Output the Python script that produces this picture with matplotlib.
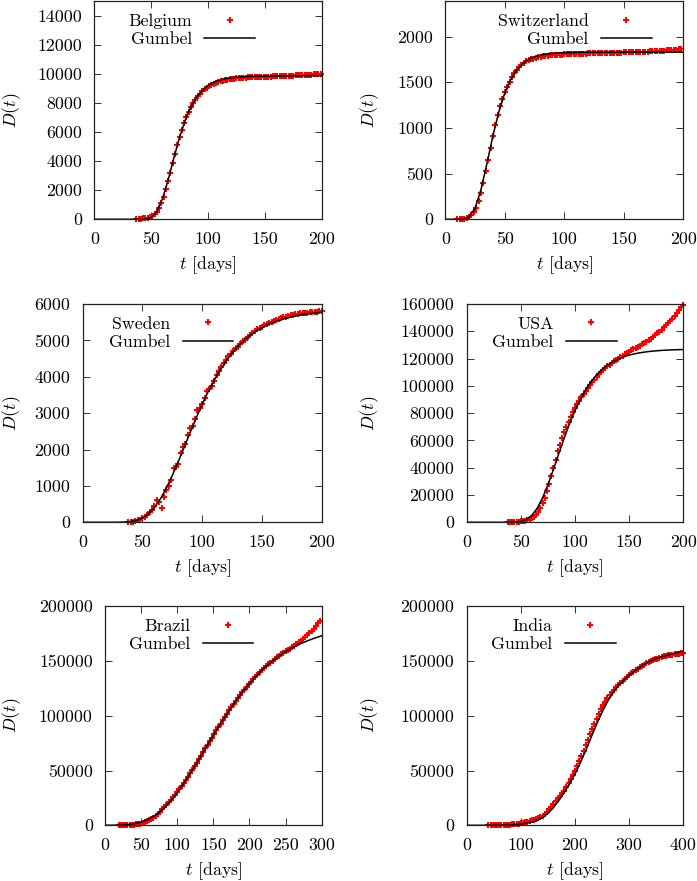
import matplotlib
matplotlib.use("Agg")
import matplotlib.pyplot as plt

plt.rcParams.update({
    "font.family": "serif",
    "font.serif": ["cmr10"],
    "mathtext.fontset": "cm",
    "axes.formatter.use_mathtext": True,
    "font.size": 12.8,
})

W, H = 697, 881
FS = 12.8

# ---------------------------------------------------------------------------
# Cumulative deaths D(t) (data) and the Gumbel fit curves
# ---------------------------------------------------------------------------
BEL_T = list(range(37, 200, 2))
BEL_D = [10, 20, 35, 60, 85, 120, 170, 250, 360, 520,
         780, 1150, 1550, 2050, 2600, 3200, 3850, 4500, 5080, 5650,
         6150, 6650, 7050, 7400, 7700, 7980, 8230, 8450, 8630, 8790,
         8930, 9040, 9140, 9230, 9300, 9370, 9430, 9480, 9520, 9560,
         9590, 9620, 9640, 9665, 9685, 9700, 9712, 9722, 9735, 9745,
         9755, 9760, 9767, 9773, 9780, 9787, 9793, 9800, 9807, 9812,
         9815, 9822, 9828, 9835, 9842, 9848, 9855, 9862, 9868, 9875,
         9882, 9888, 9895, 9902, 9910, 9920, 9930, 9940, 9950, 9963,
         9977, 9990]
BEL_FIT_T = list(range(0, 201, 5))
BEL_FIT_D = [0, 0, 0, 0, 0, 0, 0, 0, 0, 11, 112, 513, 1405, 2727, 4225, 5637,
             6818, 7730, 8394, 8865, 9189, 9409, 9557, 9656, 9722, 9765, 9794,
             9813, 9826, 9834, 9840, 9844, 9847, 9850, 9852, 9855, 9858, 9861,
             9864, 9867, 9870]

SUI_T = list(range(10, 199, 2))
SUI_D = [1, 2, 4, 8, 14, 25, 45, 75, 120, 200,
         290, 400, 530, 650, 780, 910, 1030, 1140, 1235, 1315,
         1390, 1450, 1505, 1555, 1600, 1635, 1665, 1690, 1710, 1728,
         1740, 1750, 1760, 1767, 1774, 1780, 1784, 1788, 1791, 1794,
         1796, 1798, 1800, 1802, 1804, 1805, 1806, 1808, 1809, 1810,
         1811, 1812, 1813, 1814, 1815, 1816, 1817, 1818, 1819, 1819,
         1820, 1821, 1821, 1822, 1823, 1823, 1824, 1825, 1825, 1826,
         1827, 1827, 1828, 1829, 1829, 1830, 1831, 1833, 1834, 1835,
         1837, 1838, 1839, 1841, 1842, 1844, 1846, 1848, 1850, 1852,
         1854, 1856, 1858, 1861, 1865]
SUI_FIT_T = list(range(0, 201, 5))
SUI_FIT_D = [0, 0, 0, 2, 25, 121, 326, 612, 913, 1177, 1383, 1532, 1635, 1704,
             1749, 1778, 1797, 1809, 1817, 1821, 1825, 1826, 1828, 1829, 1829,
             1830, 1830, 1830, 1830, 1830, 1830, 1830, 1830, 1830, 1830, 1830,
             1830, 1830, 1830, 1830, 1830]

SWE_T = list(range(38, 201, 2))
SWE_D = [5, 10, 18, 30, 50, 75, 105, 150, 200, 270,
         350, 450, 600, 560, 380, 700, 880, 1000, 1150, 1480,
         1530, 1600, 1900, 2080, 2150, 2400, 2580, 2650, 2850, 3080,
         3150, 3250, 3420, 3620, 3660, 3740, 3890, 4040, 4150, 4280,
         4380, 4450, 4560, 4620, 4700, 4780, 4820, 4900, 4980, 5020,
         5080, 5150, 5200, 5260, 5300, 5350, 5380, 5420, 5450, 5480,
         5500, 5530, 5560, 5580, 5610, 5630, 5650, 5670, 5690, 5700,
         5715, 5725, 5740, 5748, 5755, 5762, 5770, 5776, 5782, 5788,
         5794, 5800]
SWE_FIT_T = list(range(0, 201, 5))
SWE_FIT_D = [0, 0, 0, 0, 0, 0, 2, 6, 20, 53, 120, 233, 406, 642, 939, 1287,
             1669, 2071, 2476, 2870, 3244, 3590, 3905, 4186, 4434, 4650, 4837,
             4998, 5135, 5252, 5350, 5433, 5503, 5561, 5610, 5650, 5684, 5712,
             5736, 5755, 5771]

USA_T = list(range(38, 201, 2))
USA_D = [100, 150, 200, 280, 380, 500, 650, 850, 1100, 1500,
         2100, 3000, 4000, 5500, 7500, 10500, 14000, 18000, 23000, 28300,
         34000, 40000, 46000, 52000, 57000, 62000, 66000, 70000, 73800, 77400,
         80500, 83500, 86500, 89000, 91500, 93800, 96000, 98300, 100500,
         102500, 104500, 106500, 108500, 110200, 111800, 113000, 114300,
         115600, 116800, 117900, 119000, 120000, 121000, 122000, 123000,
         124000, 125000, 126000, 126900, 127700, 128600, 129500, 130500,
         131500, 132500, 133600, 134700, 135900, 137200, 138500, 139800,
         141200, 142800, 144300, 145800, 147500, 149300, 151200, 153300,
         155400, 157500, 159500]
USA_FIT_T = list(range(0, 201, 5))
USA_FIT_D = [0, 0, 0, 0, 0, 0, 0, 2, 19, 135, 609, 1986, 4980, 10200, 17820,
             27500, 38600, 50230, 61660, 72350, 81940, 90270, 97360, 103250,
             108090, 112010, 115170, 117680, 119690, 121270, 122520, 123490,
             124260, 124860, 125330, 125700, 125980, 126210, 126380, 126520,
             126630]

BRA_T = list(range(19, 299, 3))
BRA_D = [30, 70, 120, 180, 250, 360, 500, 700, 900, 1200,
         1600, 2100, 2700, 3500, 4500, 5600, 7000, 8600, 10500, 12500,
         14500, 16600, 18800, 21000, 23200, 25600, 28000, 30400, 32900, 35600,
         38400, 41300, 44400, 47500, 50700, 53900, 57100, 60400, 63700, 67000,
         70300, 73600, 76900, 80100, 83400, 86600, 89700, 92900, 96000, 99000,
         102000, 104900, 107800, 110700, 113400, 116100, 118700, 121400,
         123900, 126400, 128800, 131100, 133400, 135500, 137600, 139600,
         141500, 143400, 145200, 146900, 148600, 150200, 151800, 153300,
         154800, 156200, 157500, 158800, 160100, 161400, 162700, 164100,
         165600, 167100, 168700, 170300, 172100, 173900, 175700, 177600,
         179700, 181900, 184300, 187000]
BRA_FIT_T = list(range(0, 301, 10))
BRA_FIT_D = [20, 70, 230, 620, 1440, 2900, 5500, 9300, 14700, 21600, 29900,
             39300, 49600, 60400, 71400, 82300, 92900, 103000, 112500, 121400,
             129600, 136900, 143400, 149100, 154200, 158600, 162300, 165600,
             168400, 170900, 173100]

IND_T = list(range(40, 401, 4))
IND_D = [100, 140, 180, 220, 260, 300, 340, 380, 440, 520,
         600, 750, 900, 1100, 1400, 1800, 2200, 2650, 3150, 3750,
         4400, 5100, 5900, 6700, 7600, 8800, 10500, 12500, 14600, 16900,
         19400, 22000, 24600, 27100, 29300, 31500, 34800, 38300, 42000, 45800,
         49800, 54000, 58500, 63200, 68000, 73000, 78000, 83000, 88000, 92900,
         97500, 101900, 106000, 109700, 113000, 116000, 118800, 121400,
         123800, 126000, 128200, 130200, 132100, 133900, 135600, 137200,
         138700, 140200, 141600, 143000, 144400, 145600, 146800, 147800,
         148800, 149800, 150700, 151500, 152300, 153000, 153600, 154200,
         154700, 155200, 155600, 155900, 156200, 156500, 156800, 157000,
         157300]
IND_FIT_T = list(range(0, 401, 10))
IND_FIT_D = [0, 0, 0, 0, 5, 20, 60, 150, 330, 650, 1200, 1900, 2800, 4400,
             7000, 10900, 16000, 22500, 30000, 38200, 46800, 57200, 68500,
             80600, 92400, 103300, 112900, 120900, 127400, 132700, 137100,
             140900, 144500, 147700, 150300, 152300, 153900, 155300, 156600,
             157800, 159000]

COUNTRIES = ["Belgium", "Switzerland", "Sweden", "USA", "Brazil", "India"]
SERIES = [
    (BEL_T, BEL_D, BEL_FIT_T, BEL_FIT_D),
    (SUI_T, SUI_D, SUI_FIT_T, SUI_FIT_D),
    (SWE_T, SWE_D, SWE_FIT_T, SWE_FIT_D),
    (USA_T, USA_D, USA_FIT_T, USA_FIT_D),
    (BRA_T, BRA_D, BRA_FIT_T, BRA_FIT_D),
    (IND_T, IND_D, IND_FIT_T, IND_FIT_D),
]
XTICKS = [list(range(0, 201, 50))] * 4 + [list(range(0, 301, 50)),
                                          list(range(0, 401, 100))]
YTICKS = [list(range(0, 14001, 2000)), list(range(0, 2001, 500)),
          list(range(0, 6001, 1000)), list(range(0, 160001, 20000)),
          list(range(0, 200001, 50000)), list(range(0, 200001, 50000))]
YTOP = [15000, 2390, 6000, 160000, 200000, 200000]

# layout in pixels: (left, right, top, bottom), legend anchor (x, y)
RECTS = [(94.3, 321.7, 1.0, 219.3), (445.3, 683.3, 1.0, 219.3),
         (82.7, 321.7, 304.0, 522.3), (466.7, 683.3, 304.0, 522.3),
         (105.0, 321.7, 606.3, 825.3), (466.7, 683.3, 606.3, 825.3)]
LEGENDS = [(255.0, 13.6), (651.7, 13.6), (233.3, 316.2),
           (616.7, 316.2), (253.3, 618.9), (615.6, 618.9)]
YLABEL_X = [11.5, 370.0, 11.5, 370.0, 11.5, 370.0]


def main():
    fig = plt.figure(figsize=(W / 100, H / 100), dpi=100)

    for i, name in enumerate(COUNTRIES):
        t, d, ft, fd = SERIES[i]
        left, right, top, bottom = RECTS[i]
        w, h = right - left, bottom - top
        ax = fig.add_axes([left / W, 1 - bottom / H, w / W, h / H])

        pts, = ax.plot(t, d, "+", color="#ff0000", ms=5.0, mew=1.5,
                       clip_on=False, zorder=2, label=name)
        fit, = ax.plot(ft, fd, "-", color="black", lw=1.1, zorder=3,
                       label="Gumbel")

        xt = XTICKS[i]
        ax.set_xlim(xt[0], xt[-1])
        ax.set_ylim(0, YTOP[i])
        ax.set_xticks(xt, [str(v) for v in xt])
        ax.set_yticks(YTICKS[i], [str(v) for v in YTICKS[i]])
        ax.tick_params(direction="in", top=True, right=True, length=5,
                       width=0.7, pad=8.8, labelsize=FS, color="#333333")
        for sp in ax.spines.values():
            sp.set_linewidth(0.9)
            sp.set_color("#222222")

        ax.set_xlabel(r"$t$ [days]", fontsize=FS)
        ax.xaxis.set_label_coords(0.5, -45.7 / h)
        ax.xaxis.label.set_verticalalignment("center")
        ax.set_ylabel(r"$D(t)$", fontsize=FS)
        ax.yaxis.set_label_coords((YLABEL_X[i] - left) / w, 0.5)
        ax.yaxis.label.set_verticalalignment("center")

        lx, ly = LEGENDS[i]
        ax.legend(handles=[pts, fit], loc="upper right",
                  bbox_to_anchor=(lx / W, 1 - ly / H),
                  bbox_transform=fig.transFigure, frameon=False,
                  markerfirst=False, borderpad=0, borderaxespad=0,
                  handlelength=2.85, handletextpad=0.7, labelspacing=0.15,
                  numpoints=1, fontsize=FS)

    fig.savefig("out.png", dpi=100)
    plt.close(fig)


if __name__ == "__main__":
    main()
